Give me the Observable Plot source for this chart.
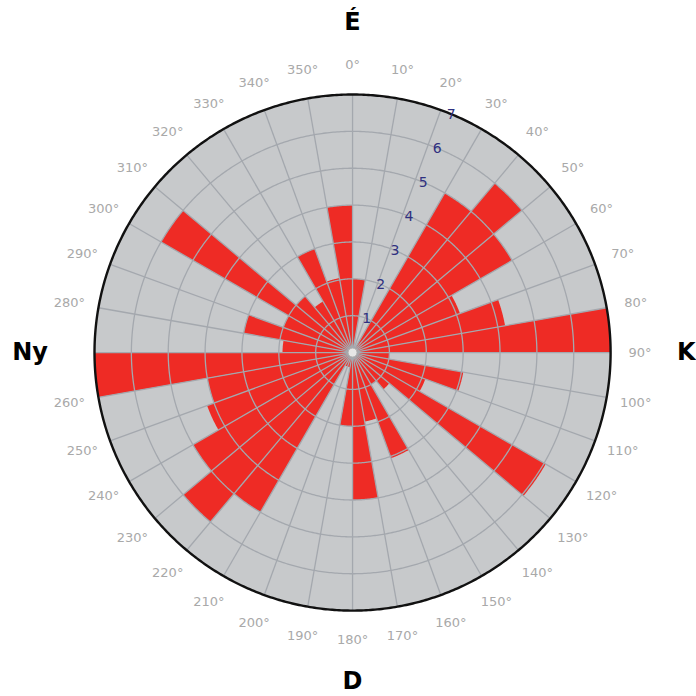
<!DOCTYPE html>
<html><head><meta charset="utf-8">
<script src="https://cdn.jsdelivr.net/npm/d3@7"></script>
<script src="https://cdn.jsdelivr.net/npm/@observablehq/plot@0.6"></script>
<style>html,body{margin:0;padding:0;background:#fff}</style>
</head><body><div id="chart"></div>
<script>
// Sector start bearings (degrees, clockwise from north) and counts
const directions = [0,10,20,30,40,50,60,70,80,90,100,110,120,130,140,150,160,170,180,190,200,210,220,230,240,250,260,270,280,290,300,310,320,330,340,350];
const counts     = [2.0,0,0,5.0,6.0,5.0,3.1,4.2,7.0,1.0,3.05,2.1,6.05,1.3,1.0,3.05,1.9,4.0,2.0,0.4,0.4,5.0,6.0,5.0,4.2,4.0,7.0,1.9,3.0,2.0,6.0,2.0,1.6,3.0,2.05,4.0];
const ringValues = [1,2,3,4,5,6,7];
const degreeTicks = [0,10,20,30,40,50,60,70,80,90,100,110,120,130,140,150,160,170,180,190,200,210,220,230,240,250,260,280,290,300,310,320,330,340,350];
const cardinalNames = ["É","K","D","Ny"];
const cardinalBearings = [0,90,180,270];

const rMax = 7;
const binWidth = 10;
const rad = b => b * Math.PI / 180;
const px = (b, r) => r * Math.sin(rad(b));
const py = (b, r) => r * Math.cos(rad(b));

// polygons for bars (center + arc)
const barPts = directions.flatMap((d, i) => {
  const pts = [{id: i, x: 0, y: 0}];
  for (let a = d; a <= d + binWidth + 1e-9; a += 0.5) pts.push({id: i, x: px(a, counts[i]), y: py(a, counts[i])});
  pts.push({id: i, x: 0, y: 0});
  return pts;
});
const circlePts = r => d3.range(0, 360.5, 0.5).map(a => ({r, x: px(a, r), y: py(a, r)}));
const diskPts = circlePts(rMax);
const ringPts = ringValues.filter(v => v < rMax).flatMap(v => circlePts(v));
const cardR = [8.95, 9.05, 8.92, 8.75];

const chart = Plot.plot({
  width: 696, height: 696, margin: 0,
  x: {domain: [-9.55, 9.33], axis: null},
  y: {domain: [-9.33, 9.55], axis: null},
  style: {background: "#fff", fontFamily: "DejaVu Sans, sans-serif"},
  marks: [
    Plot.line(diskPts, {x: "x", y: "y", fill: "#c7c9cb", stroke: "none"}),
    Plot.line(barPts, {x: "x", y: "y", z: "id", fill: "#ee2b25", stroke: "none"}),
    Plot.line(ringPts, {x: "x", y: "y", z: "r", stroke: "#a4a8ae", strokeWidth: 1.3}),
    Plot.link(directions, {x1: 0, y1: 0, x2: d => px(d, rMax), y2: d => py(d, rMax), stroke: "#a4a8ae", strokeWidth: 1.3}),
    Plot.line(diskPts, {x: "x", y: "y", stroke: "#111", strokeWidth: 2.4}),
    Plot.dot([0], {x: 0, y: 0, r: 4.5, fill: "#e6e6e6", stroke: "#b0b0b0", strokeWidth: 1}),
    Plot.text(ringValues, {x: v => px(22.5, v), y: v => py(22.5, v), text: v => String(v), fill: "#2f3080", fontSize: 14}),
    Plot.text(degreeTicks, {x: d => px(d, 7.8), y: d => py(d, 7.8), text: d => d + "°", fill: "#a9a9a9", fontSize: 13}),
    Plot.text(cardinalBearings, {x: (d, i) => px(d, cardR[i]), y: (d, i) => py(d, cardR[i]), text: (d, i) => cardinalNames[i], fill: "#000", fontSize: 24, fontWeight: "bold"})
  ]
});
document.getElementById("chart").appendChild(chart);
</script>
</body></html>
